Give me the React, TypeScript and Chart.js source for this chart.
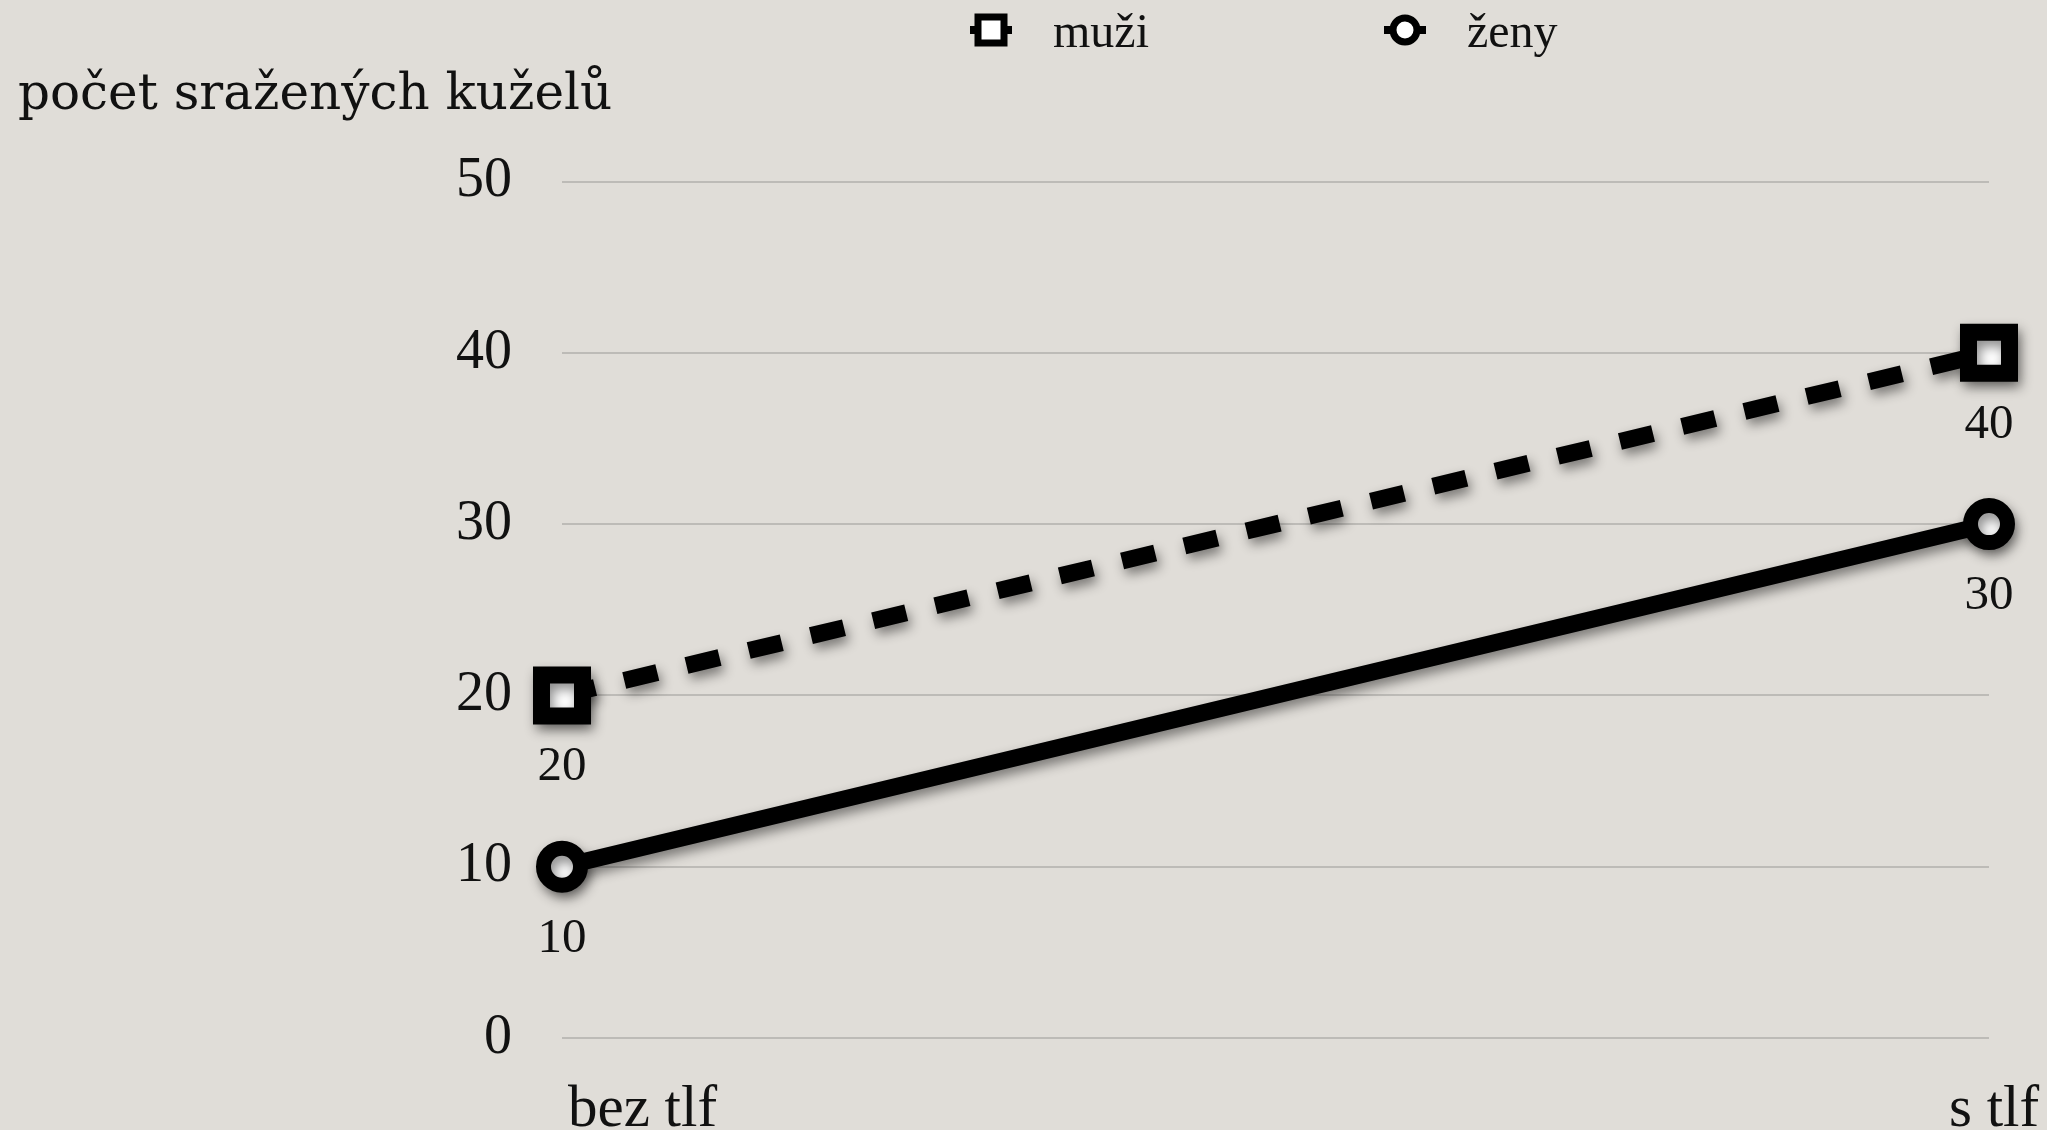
import React, { useEffect, useRef } from "react";
import { Chart, registerables } from "chart.js";

Chart.register(...registerables);

// ---- data ----
const categories = ["bez tlf", "s tlf"];
const seriesNames = ["muži", "ženy"];
const muziValues = [20, 40];
const zenyValues = [10, 30];
const yTickValues = [0, 10, 20, 30, 40, 50];
const axisTitle = "počet sražených kuželů";

// ---- styling constants ----
const W = 2047;
const H = 1130;
const BG = "#e0ddd8";
const SERIF = '"Liberation Serif", "Times New Roman", serif';
const SLAB = '"DejaVu Serif", serif';
const INK = "#111111";

const bgPlugin = {
  id: "paperBg",
  beforeDraw(chart: any) {
    const { ctx } = chart;
    ctx.save();
    ctx.fillStyle = BG;
    ctx.fillRect(0, 0, chart.width, chart.height);
    ctx.restore();
  },
};

const shadowPlugin = {
  id: "lineShadow",
  beforeDatasetsDraw(chart: any) {
    const ctx = chart.ctx;
    ctx.save();
    ctx.shadowColor = "rgba(0,0,0,0.45)";
    ctx.shadowBlur = 12;
    ctx.shadowOffsetX = 3;
    ctx.shadowOffsetY = 6;
  },
  afterDatasetsDraw(chart: any) {
    chart.ctx.restore();
  },
};

const labelsPlugin = {
  id: "valueAndCategoryLabels",
  afterDraw(chart: any) {
    const ctx = chart.ctx;
    ctx.save();
    // value labels under points
    ctx.fillStyle = INK;
    ctx.font = `49px ${SERIF}`;
    ctx.textAlign = "center";
    ctx.textBaseline = "middle";
    chart.data.datasets.forEach((ds: any, di: number) => {
      const meta = chart.getDatasetMeta(di);
      meta.data.forEach((pt: any, i: number) => {
        ctx.fillText(String(ds.data[i]), pt.x, pt.y + 72);
      });
    });
    // category labels
    const xs = chart.scales.x;
    ctx.font = `59px ${SERIF}`;
    ctx.textBaseline = "alphabetic";
    categories.forEach((c, i) => {
      const px = xs.getPixelForValue(i);
      if (i === 0) {
        ctx.textAlign = "left";
        ctx.fillText(c, px + 6, chart.height - 4);
      } else {
        ctx.textAlign = "center";
        ctx.fillText(c, px + 5, chart.height - 4);
      }
    });
    ctx.restore();
  },
};

const LEGEND_X = [991, 1405];
const LEGEND_Y = 30;

const legendPlugin = {
  id: "customLegend",
  afterDraw(chart: any) {
    const ctx = chart.ctx;
    ctx.save();
    chart.data.datasets.forEach((ds: any, i: number) => {
      const cx = LEGEND_X[i];
      const cy = LEGEND_Y;
      ctx.strokeStyle = "#000";
      ctx.fillStyle = "#fff";
      // short line stub
      ctx.lineWidth = 8;
      ctx.beginPath();
      ctx.moveTo(cx - 21, cy);
      ctx.lineTo(cx + 21, cy);
      ctx.stroke();
      if (ds.pointStyle === "rect") {
        ctx.lineWidth = 7;
        ctx.beginPath();
        ctx.rect(cx - 13, cy - 13, 26, 26);
        ctx.fill();
        ctx.stroke();
      } else {
        ctx.lineWidth = 7;
        ctx.beginPath();
        ctx.arc(cx, cy, 12, 0, Math.PI * 2);
        ctx.fill();
        ctx.stroke();
      }
      ctx.fillStyle = INK;
      ctx.font = `48px ${SERIF}`;
      ctx.textAlign = "left";
      ctx.textBaseline = "middle";
      ctx.fillText(ds.label, cx + 62, cy + 4);
    });
    ctx.restore();
  },
};

function LineChart() {
  const ref = useRef<HTMLCanvasElement | null>(null);

  useEffect(() => {
    if (!ref.current) return;
    const chart = new Chart(ref.current, {
      type: "line",
      data: {
        labels: categories,
        datasets: [
          {
            label: seriesNames[0],
            data: muziValues,
            borderColor: "#000",
            borderWidth: 17,
            borderDash: [34, 30],
            borderCapStyle: "butt",
            pointStyle: "rect",
            pointRadius: 29,
            pointHoverRadius: 29,
            pointBorderWidth: 17,
            pointHoverBorderWidth: 17,
            pointBackgroundColor: "#fff",
            pointBorderColor: "#000",
            tension: 0,
            clip: false,
          } as any,
          {
            label: seriesNames[1],
            data: zenyValues,
            borderColor: "#000",
            borderWidth: 17,
            pointStyle: "circle",
            pointRadius: 18.5,
            pointHoverRadius: 18.5,
            pointBorderWidth: 15,
            pointHoverBorderWidth: 15,
            pointBackgroundColor: "#fff",
            pointBorderColor: "#000",
            tension: 0,
            clip: false,
          } as any,
        ],
      },
      options: {
        animation: false,
        responsive: false,
        devicePixelRatio: 1,
        events: [],
        layout: { padding: { left: 18, right: 58, top: 0, bottom: 0 } },
        plugins: {
          legend: { display: false },
          tooltip: { enabled: false },
          title: {
            display: true,
            text: axisTitle,
            align: "start",
            position: "top",
            color: INK,
            font: { family: SLAB, size: 50, weight: "normal" as any, lineHeight: 1.2 },
            padding: { top: 66, bottom: 55.5 },
          },
        },
        scales: {
          x: {
            type: "category",
            offset: false,
            grid: { display: false },
            border: { display: false },
            ticks: { display: false },
            afterFit: (s: any) => {
              s.height = 92;
            },
          },
          y: {
            min: 0,
            max: 50,
            afterBuildTicks: (s: any) => {
              s.ticks = yTickValues.map((v) => ({ value: v }));
            },
            grid: { color: "#bdbbb7", lineWidth: 2, drawTicks: false },
            border: { display: false },
            ticks: {
              color: INK,
              padding: 50,
              font: { family: SERIF, size: 56 },
            },
            afterFit: (s: any) => {
              s.width = 544;
            },
          },
        },
      },
      plugins: [bgPlugin, shadowPlugin, labelsPlugin, legendPlugin],
    });
    return () => chart.destroy();
  }, []);

  return (
    <canvas
      ref={ref}
      width={W}
      height={H}
      style={{ display: "block", width: W, height: H }}
    />
  );
}

export default function App() {
  useEffect(() => {
    document.body.style.margin = "0";
    document.body.style.overflow = "hidden";
    document.body.style.background = BG;
  }, []);
  return (
    <div style={{ width: W, height: H, background: BG }}>
      <LineChart />
    </div>
  );
}
